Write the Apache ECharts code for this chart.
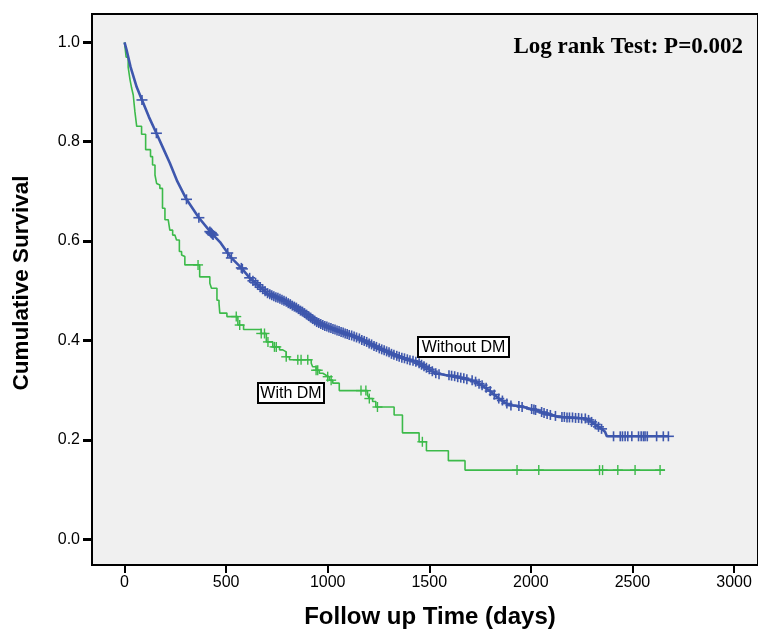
<!DOCTYPE html>
<html>
<head>
<meta charset="utf-8">
<script src="https://cdn.jsdelivr.net/npm/echarts@6/dist/echarts.min.js"></script>
<style>
html,body{margin:0;padding:0;background:#fff;}
#chart{width:758px;height:630px;}
</style>
</head>
<body>
<div id="chart"></div>
<script>
// ---- tick labels ----
const xTicks = [0, 500, 1000, 1500, 2000, 2500, 3000];
const yTicks = [0, 0.2, 0.4, 0.6, 0.8, 1.0];

// ---- Without DM: survival curve (days, survival) ----
const withoutDMCurve = [
  [0,1.0],[10,0.985],[30,0.95],[60,0.91],[86,0.884],[120,0.85],[157,0.817],[190,0.787],
  [223,0.757],[260,0.72],[305,0.684],[366,0.647],[428,0.616],[470,0.598],[508,0.576],
  [526,0.566],[575,0.546],[616,0.526],[655,0.512],[704,0.494],[760,0.485],[796,0.478],
  [876,0.458],[943,0.438],[1000,0.427],[1041,0.421],[1100,0.412],[1156,0.404],[1254,0.384],
  [1352,0.367],[1434,0.357],[1450,0.354],[1532,0.334],[1662,0.324],[1728,0.317],[1793,0.300],
  [1842,0.283],[1892,0.270],[1941,0.268],[2023,0.260],[2072,0.253],[2137,0.246],[2268,0.243],
  [2299,0.236],[2333,0.226],[2348,0.222],[2365,0.216],[2374,0.207],[2677,0.207]
];

// ---- Without DM: censored observations ----
const withoutDMCensored = [
  [86,0.884],[157,0.817],[305,0.684],[366,0.647],[420,0.619],[425,0.617],[428,0.616],[432,0.614],
  [436,0.612],[508,0.576],[526,0.566],[575,0.546],[580,0.544],[616,0.526],[632,0.520],[645,0.516],
  [655,0.512],[668,0.507],[680,0.503],[692,0.499],[704,0.495],[715,0.493],[725,0.491],[735,0.489],
  [745,0.487],[755,0.486],[765,0.484],[775,0.482],[785,0.480],[796,0.478],[806,0.475],[816,0.473],
  [826,0.470],[836,0.468],[846,0.466],[856,0.463],[866,0.460],[876,0.458],[886,0.455],[896,0.452],
  [906,0.449],[916,0.446],[926,0.443],[936,0.440],[946,0.437],[956,0.435],[966,0.433],[976,0.431],
  [986,0.429],[996,0.428],[1006,0.426],[1016,0.425],[1026,0.423],[1036,0.422],[1046,0.420],[1056,0.419],
  [1066,0.417],[1076,0.416],[1086,0.414],[1096,0.413],[1106,0.411],[1118,0.410],[1130,0.408],[1142,0.406],
  [1156,0.404],[1168,0.401],[1180,0.399],[1192,0.397],[1204,0.394],[1216,0.392],[1228,0.389],[1240,0.387],
  [1254,0.384],[1266,0.382],[1278,0.380],[1290,0.378],[1302,0.376],[1314,0.373],[1326,0.371],[1340,0.369],
  [1352,0.367],[1365,0.365],[1378,0.364],[1392,0.362],[1405,0.360],[1420,0.359],[1434,0.357],[1450,0.354],
  [1462,0.351],[1474,0.348],[1486,0.345],[1500,0.342],[1515,0.338],[1532,0.334],[1548,0.332],[1597,0.330],
  [1610,0.329],[1625,0.328],[1640,0.326],[1655,0.325],[1670,0.324],[1685,0.322],[1711,0.320],[1728,0.317],
  [1745,0.313],[1760,0.310],[1780,0.305],[1800,0.298],[1820,0.291],[1842,0.283],[1860,0.279],[1882,0.273],
  [1902,0.269],[1941,0.268],[1957,0.266],[2004,0.262],[2015,0.261],[2023,0.260],[2053,0.256],[2065,0.254],
  [2080,0.252],[2096,0.250],[2121,0.248],[2153,0.246],[2165,0.246],[2178,0.245],[2190,0.245],[2205,0.245],
  [2220,0.244],[2235,0.244],[2250,0.243],[2268,0.243],[2284,0.240],[2299,0.236],[2317,0.231],[2333,0.226],
  [2348,0.222],[2407,0.207],[2440,0.207],[2451,0.207],[2464,0.207],[2477,0.207],[2497,0.207],[2530,0.207],
  [2543,0.207],[2554,0.207],[2562,0.207],[2573,0.207],[2619,0.207],[2652,0.207],[2677,0.207]
];

// ---- With DM: survival steps (day of drop, survival after drop) ----
const withDMCurve = [
  [0,1.0],[8,0.97],[18,0.95],[27,0.925],[35,0.908],[43,0.894],[51,0.861],[60,0.831],[84,0.815],
  [104,0.784],[128,0.770],[138,0.753],[150,0.733],[158,0.716],[166,0.713],[174,0.706],[187,0.666],
  [199,0.643],[215,0.639],[223,0.622],[237,0.612],[248,0.609],[256,0.602],[270,0.579],[281,0.572],
  [289,0.569],[297,0.552],[370,0.528],[420,0.515],[428,0.505],[455,0.481],[465,0.475],[469,0.455],
  [504,0.448],[558,0.431],[586,0.422],[673,0.414],[698,0.397],[730,0.387],[763,0.381],[779,0.377],
  [796,0.367],[812,0.361],[919,0.354],[926,0.347],[943,0.340],[959,0.334],[976,0.330],[992,0.327],
  [1008,0.320],[1025,0.314],[1057,0.299],[1196,0.290],[1205,0.283],[1221,0.277],[1237,0.266],
  [1327,0.250],[1368,0.214],[1450,0.196],[1486,0.178],[1594,0.158],[1676,0.139],[2660,0.139]
];

// ---- With DM: censored observations ----
const withDMCensored = [
  [362,0.552],[550,0.448],[567,0.431],[673,0.414],[689,0.414],[706,0.397],[738,0.387],[747,0.387],
  [796,0.367],[853,0.361],[869,0.361],[902,0.361],[943,0.340],[951,0.340],[1000,0.327],[1017,0.320],
  [1164,0.299],[1188,0.299],[1205,0.283],[1245,0.266],[1466,0.196],[1932,0.139],[2039,0.139],
  [2338,0.139],[2353,0.139],[2428,0.139],[2513,0.139],[2636,0.139]
];

const BLUE = '#3e57ad';
const GREEN = '#3cba4a';

function plusRenderer(color, half, halfV, lw) {
  return function (params, api) {
    const p = api.coord([api.value(0), api.value(1)]);
    return {
      type: 'group',
      children: [
        { type: 'line', shape: { x1: p[0] - half, y1: p[1], x2: p[0] + half, y2: p[1] },
          style: { stroke: color, lineWidth: lw } },
        { type: 'line', shape: { x1: p[0], y1: p[1] - halfV, x2: p[0], y2: p[1] + halfV },
          style: { stroke: color, lineWidth: lw } }
      ]
    };
  };
}

const chart = echarts.init(document.getElementById('chart'), null, { renderer: 'canvas' });

const option = {
  backgroundColor: '#ffffff',
  animation: false,
  grid: {
    left: 92, top: 14, right: -2, bottom: 65,
    show: true, backgroundColor: '#f0f0f0', borderColor: '#000', borderWidth: 2
  },
  xAxis: {
    type: 'value', min: -160, max: 3118,
    axisLine: { show: true, onZero: false, lineStyle: { color: '#000', width: 2 } },
    axisTick: { show: true, customValues: xTicks, length: 8, lineStyle: { color: '#000', width: 2 } },
    axisLabel: { customValues: xTicks, color: '#000', fontSize: 16, fontFamily: 'Liberation Sans', margin: 10,
      formatter: v => String(v) },
    splitLine: { show: false }
  },
  yAxis: {
    type: 'value', min: -0.052, max: 1.057,
    axisLine: { show: true, onZero: false, lineStyle: { color: '#000', width: 2 } },
    axisTick: { show: true, customValues: yTicks, length: 9, lineStyle: { color: '#000', width: 3 } },
    axisLabel: { customValues: yTicks, color: '#000', fontSize: 16, fontFamily: 'Liberation Sans', margin: 12,
      formatter: v => v.toFixed(1) },
    splitLine: { show: false }
  },
  series: [
    {
      type: 'line', data: withDMCurve, step: 'end', showSymbol: false,
      lineStyle: { color: GREEN, width: 1.6 }, z: 2
    },
    {
      type: 'line', data: withoutDMCurve, showSymbol: false,
      lineStyle: { color: BLUE, width: 2.6 }, z: 3
    },
    {
      type: 'custom', data: withDMCensored, renderItem: plusRenderer(GREEN, 5, 5, 1.4), z: 4
    },
    {
      type: 'custom', data: withoutDMCensored, renderItem: plusRenderer(BLUE, 5.5, 5, 1.6), z: 5
    }
  ],
  graphic: [
    { type: 'text', x: 743, y: 47,
      style: { text: 'Log rank Test: P=0.002', font: 'bold 23px "Liberation Serif"', fill: '#000',
        align: 'right', verticalAlign: 'middle' } },
    { type: 'text', x: 22, y: 283, rotation: Math.PI / 2,
      style: { text: 'Cumulative Survival', font: 'bold 22.5px "Liberation Sans"', fill: '#000',
        align: 'center', verticalAlign: 'middle' } },
    { type: 'text', x: 430, y: 617,
      style: { text: 'Follow up Time (days)', font: 'bold 24px "Liberation Sans"', fill: '#000',
        align: 'center', verticalAlign: 'middle' } },
    { type: 'rect', shape: { x: 418, y: 337, width: 91, height: 20 },
      style: { fill: '#fff', stroke: '#000', lineWidth: 2 }, z: 100 },
    { type: 'text', x: 463.5, y: 347.5, z: 101,
      style: { text: 'Without DM', font: '16px "Liberation Sans"', fill: '#000', align: 'center', verticalAlign: 'middle' } },
    { type: 'rect', shape: { x: 258, y: 383, width: 66, height: 20 },
      style: { fill: '#fff', stroke: '#000', lineWidth: 2 }, z: 100 },
    { type: 'text', x: 291, y: 393.5, z: 101,
      style: { text: 'With DM', font: '16px "Liberation Sans"', fill: '#000', align: 'center', verticalAlign: 'middle' } }
  ]
};
chart.setOption(option);
</script>
</body>
</html>
